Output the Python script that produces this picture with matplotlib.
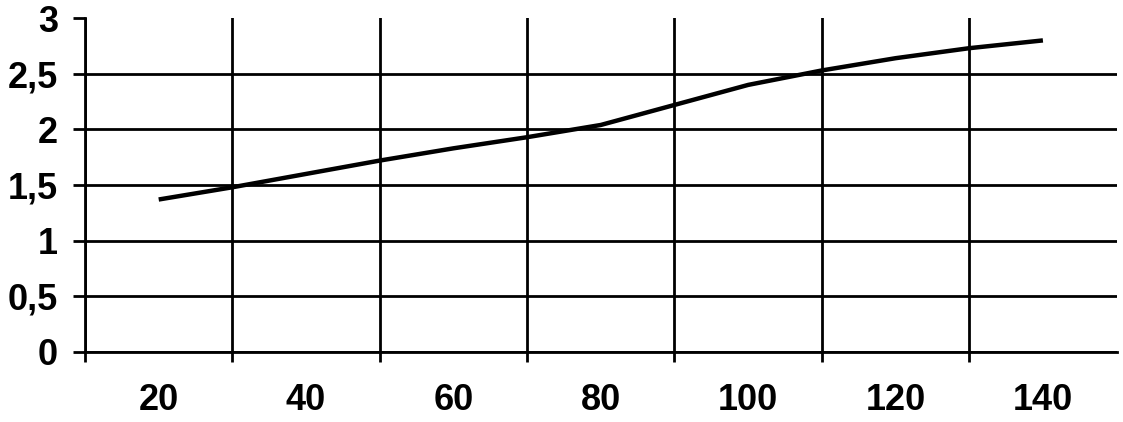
"""
Line chart on an Excel-style grid: one rising series, x from 20 to 140.
"""

import matplotlib
matplotlib.use("Agg")
import matplotlib.pyplot as plt

X_VALUES = [20, 30, 40, 50, 60, 70, 80, 90, 100, 110, 120, 130, 140]
Y_VALUES = [1.37, 1.48, 1.60, 1.72, 1.83, 1.93, 2.04, 2.22, 2.40, 2.53, 2.64, 2.73, 2.80]
X_LABELS = [20, 40, 60, 80, 100, 120, 140]
X_GRID = [10, 30, 50, 70, 90, 110, 130]
Y_TICKS = [0, 0.5, 1, 1.5, 2, 2.5, 3]
Y_LABELS = ["0", "0,5", "1", "1,5", "2", "2,5", "3"]


def main():
    plt.rcParams["font.family"] = ["Liberation Sans", "DejaVu Sans"]

    fig = plt.figure(figsize=(11.23, 4.22), dpi=100)
    ax = fig.add_axes([0.0757, 0.166, 0.9186, 0.791])

    ax.plot(X_VALUES, Y_VALUES, color="black", linewidth=3.2, solid_capstyle="butt")

    ax.set_xlim(10, 150)
    ax.set_ylim(0, 3)

    # major x ticks carry the vertical grid, minor ticks carry the labels
    ax.set_xticks(X_GRID)
    ax.set_xticklabels([])
    ax.set_xticks(X_LABELS, minor=True)
    ax.set_xticklabels([str(v) for v in X_LABELS], minor=True,
                       fontsize=26, fontweight="bold")
    ax.tick_params(axis="x", which="major", direction="out", length=7.5,
                   width=2, color="black")
    ax.tick_params(axis="x", which="minor", length=0, pad=22)

    ax.set_yticks(Y_TICKS)
    ax.set_yticklabels(Y_LABELS, fontsize=26, fontweight="bold")
    ax.tick_params(axis="y", direction="out", length=8.6, width=2,
                   color="black", pad=11)

    ax.grid(True, which="major", color="black", linewidth=2)
    ax.yaxis.get_gridlines()[-1].set_visible(False)
    ax.set_axisbelow(True)

    for side in ["top", "right"]:
        ax.spines[side].set_visible(False)
    for side in ["left", "bottom"]:
        ax.spines[side].set_linewidth(2)
        ax.spines[side].set_color("black")

    fig.savefig("out.png", dpi=100)
    plt.close(fig)


if __name__ == "__main__":
    main()
